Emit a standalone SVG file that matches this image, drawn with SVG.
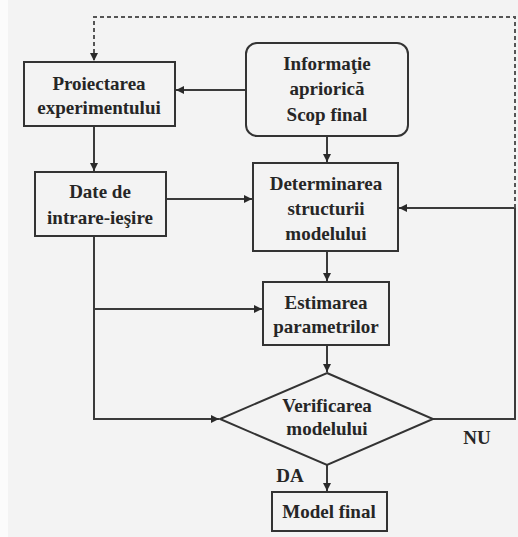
<svg xmlns="http://www.w3.org/2000/svg" width="518" height="537" viewBox="0 0 518 537">
  <style>
    .box { fill: none; stroke: #333; stroke-width: 2; }
    .lbl { font-family: "Liberation Serif", "Times New Roman", serif; font-weight: bold; font-size: 19px; fill: #262626; text-anchor: middle; }
    .wire { fill: none; stroke: #3a3a3a; stroke-width: 2; }
    .dash { stroke-dasharray: 4 3; stroke: #555; }
  </style>
  <defs>
    <marker id="arrow" viewBox="0 0 10 10" refX="10" refY="5" markerWidth="9" markerHeight="8" markerUnits="userSpaceOnUse" orient="auto">
      <path d="M0,0 L10,5 L0,10 z" fill="#2a2a2a"/>
    </marker>
  </defs>

  <!-- paper -->
  <rect x="0" y="0" width="518" height="537" fill="#f3f3f3"/>
  <rect x="0" y="0" width="8" height="537" fill="#fbfbfb"/>

  <!-- connectors -->
  <g id="connectors">
    <line class="wire" x1="247" y1="90" x2="176" y2="90" marker-end="url(#arrow)"/>
    <line class="wire" x1="94" y1="126" x2="94" y2="171" marker-end="url(#arrow)"/>
    <line class="wire" x1="327" y1="136" x2="327" y2="162" marker-end="url(#arrow)"/>
    <line class="wire" x1="166" y1="199" x2="252" y2="199" marker-end="url(#arrow)"/>
    <polyline class="wire" points="94,236 94,419 219,419" marker-end="url(#arrow)"/>
    <line class="wire" x1="94" y1="309" x2="262" y2="309" marker-end="url(#arrow)"/>
    <line class="wire" x1="327" y1="251" x2="327" y2="281" marker-end="url(#arrow)"/>
    <line class="wire" x1="327" y1="345" x2="327" y2="372" marker-end="url(#arrow)"/>
    <polyline class="wire" points="433,419 515,419 515,208 399,208" marker-end="url(#arrow)"/>
    <polyline class="wire dash" points="515,208 515,17 94,17 94,61" marker-end="url(#arrow)"/>
    <line class="wire" x1="327" y1="465" x2="327" y2="491" marker-end="url(#arrow)"/>
    <text class="lbl" x="477" y="444">NU</text>
    <text class="lbl" x="290" y="482">DA</text>
  </g>

  <g id="proiectarea">
    <rect class="box" x="24" y="62" width="151" height="64"/>
    <text class="lbl" x="99" y="90">Proiectarea</text>
    <text class="lbl" x="99" y="114">experimentului</text>
  </g>

  <g id="informatie">
    <rect class="box" x="246" y="43" width="162" height="93" rx="11" ry="11"/>
    <text class="lbl" x="327" y="70">Informaţie</text>
    <text class="lbl" x="327" y="95">apriorică</text>
    <text class="lbl" x="327" y="121">Scop final</text>
  </g>

  <g id="date">
    <rect class="box" x="35" y="172" width="131" height="64"/>
    <text class="lbl" x="100" y="198">Date de</text>
    <text class="lbl" x="100" y="224">intrare-ieşire</text>
  </g>

  <g id="determinarea">
    <rect class="box" x="253" y="163" width="145" height="88"/>
    <text class="lbl" x="326" y="190">Determinarea</text>
    <text class="lbl" x="326" y="215">structurii</text>
    <text class="lbl" x="326" y="240">modelului</text>
  </g>

  <g id="estimarea">
    <rect class="box" x="263" y="282" width="126" height="63"/>
    <text class="lbl" x="326" y="309">Estimarea</text>
    <text class="lbl" x="326" y="333">parametrilor</text>
  </g>

  <g id="verificarea">
    <polygon class="box" points="327,373 433,419 327,465 220,419"/>
    <text class="lbl" x="327" y="412">Verificarea</text>
    <text class="lbl" x="327" y="435">modelului</text>
  </g>

  <g id="model-final">
    <rect class="box" x="272" y="492" width="115" height="39"/>
    <text class="lbl" x="329" y="518">Model final</text>
  </g>
</svg>
